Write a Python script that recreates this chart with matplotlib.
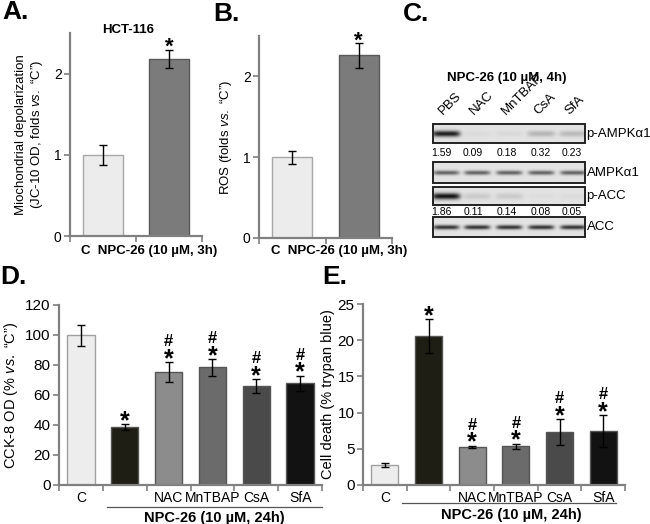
import numpy as np
import matplotlib
matplotlib.use("Agg")
import matplotlib.pyplot as plt
from matplotlib import transforms

plt.rcParams['font.family'] = ['Liberation Sans', 'DejaVu Sans']
plt.rcParams['mathtext.fontset'] = 'custom'
plt.rcParams['mathtext.it'] = 'Liberation Sans:italic'
plt.rcParams['mathtext.rm'] = 'Liberation Sans'

# ---------------- data ----------------
ab_categories = ["C", "NPC-26"]
a_values = [1.00, 2.18]
a_errors = [0.12, 0.11]
b_values = [1.00, 2.26]
b_errors = [0.08, 0.15]

de_categories = ["C", "", "NAC", "MnTBAP", "CsA", "SfA"]
d_values = [100.0, 38.5, 75.5, 78.5, 66.0, 68.0]
d_errors = [7.0, 2.0, 6.5, 5.5, 4.5, 5.0]
d_marks = ["", "*", "#*", "#*", "#*", "#*"]
e_values = [2.8, 20.6, 5.3, 5.35, 7.3, 7.4]
e_errors = [0.25, 2.3, 0.15, 0.35, 1.8, 2.2]
e_marks = ["", "*", "#*", "#*", "#*", "#*"]

lanes = ["PBS", "NAC", "MnTBAP", "CsA", "SfA"]
blot_names = ["p-AMPKα1", "AMPKα1", "p-ACC", "ACC"]
band_p_ampk = [0.95, 0.04, 0.05, 0.22, 0.20]
band_ampk = [0.62, 0.62, 0.62, 0.62, 0.62]
band_p_acc = [1.00, 0.12, 0.12, 0.03, 0.04]
band_acc = [0.85, 0.85, 0.85, 0.85, 0.85]
quant_p_ampk = ["1.59", "0.09", "0.18", "0.32", "0.23"]
quant_p_acc = ["1.86", "0.11", "0.14", "0.08", "0.05"]

# ---------------- styles ----------------
W, H = 650, 524
fig = plt.figure(figsize=(W / 100, H / 100), dpi=100)
spine_col = "#808080"
ab_colors = ["#ececec", "#7b7b7b"]
ab_edges = ["#a8a8a8", "#5a5a5a"]
de_colors = ["#ededed", "#1e1e14", "#8c8c8c", "#6b6b6b", "#4a4a4a", "#121212"]
de_edges = ["#a0a0a0", "#555555", "#555555", "#555555", "#555555", "#555555"]


def px_axes(l, r, b, t):
    return fig.add_axes([l / W, 1 - b / H, (r - l) / W, (b - t) / H])


def style_axes(ax, ncat, ylim, yticks, tickfs):
    ax.set_xlim(0, ncat)
    ax.set_ylim(*ylim)
    ax.set_yticks(yticks)
    ax.set_xticks(np.arange(ncat + 1))
    ax.set_xticklabels([])
    for s in ["top", "right"]:
        ax.spines[s].set_visible(False)
    for s in ["left", "bottom"]:
        ax.spines[s].set_color(spine_col)
        ax.spines[s].set_linewidth(1.6)
    ax.tick_params(axis="both", which="major", direction="out", length=4,
                   width=1.2, color=spine_col, labelsize=tickfs, pad=2)
    ax.patch.set_alpha(0)


def draw_bars(ax, vals, errs, colors, edges, width):
    x = np.arange(len(vals)) + 0.5
    ax.bar(x, vals, width=width, color=colors, edgecolor=edges, linewidth=1.0,
           yerr=errs, error_kw=dict(ecolor="black", elinewidth=1.0, capsize=3, capthick=1.0),
           zorder=2)
    return x


def draw_marks(ax, x, vals, errs, marks, fs, star_off):
    for xi, v, e, m in zip(x, vals, errs, marks):
        if "*" in m:
            ax.annotate("*", xy=(xi, v + e), xytext=(0, star_off), textcoords="offset pixels",
                        ha="center", va="baseline", fontsize=fs, fontweight="bold")
        if "#" in m:
            ax.annotate("#", xy=(xi, v + e), xytext=(0, 16), textcoords="offset pixels",
                        ha="center", va="baseline", fontsize=12, fontweight="bold")


# ---------------- Panel A ----------------
axA = px_axes(70, 202, 236, 33)
style_axes(axA, 2, (0, 2.5), [0, 1, 2], 10)
xa = draw_bars(axA, a_values, a_errors, ab_colors, ab_edges, 0.6)
draw_marks(axA, xa, a_values, a_errors, ["", "*"], 16, -3)
axA.set_ylabel('Miochondrial depolarization\n(JC-10 OD, folds $\\it{vs.}$ “C”)', fontsize=9.5,
               labelpad=6, linespacing=1.2)
axA.text(0.44, 1.015, "HCT-116", transform=axA.transAxes, ha="center", va="center",
         fontsize=9.5, fontweight="bold")
axA.text(0.6, -0.075, "C  NPC-26 (10 µM, 3h)", transform=axA.transAxes, ha="center",
         va="center", fontsize=9.5, fontweight="bold")

# ---------------- Panel B ----------------
axB = px_axes(259, 392, 238, 36)
style_axes(axB, 2, (0, 2.5), [0, 1, 2], 10)
xb = draw_bars(axB, b_values, b_errors, ab_colors, ab_edges, 0.6)
draw_marks(axB, xb, b_values, b_errors, ["", "*"], 16, -3)
axB.set_ylabel('ROS (folds $\\it{vs.}$ “C”)', fontsize=9.5, labelpad=6)
axB.text(0.6, -0.065, "C  NPC-26 (10 µM, 3h)", transform=axB.transAxes, ha="center",
         va="center", fontsize=9.5, fontweight="bold")

# ---------------- Panel D ----------------
axD = px_axes(59, 322, 485, 305)
style_axes(axD, 6, (0, 120), np.arange(0, 121, 20), 11)
xd = draw_bars(axD, d_values, d_errors, de_colors, de_edges, 0.62)
draw_marks(axD, xd, d_values, d_errors, d_marks, 18, -4)
axD.set_ylabel('CCK-8 OD (% $\\it{vs.}$ “C”)', fontsize=10.5, labelpad=4)
axD.set_xticks(xd, minor=True)
axD.set_xticklabels(de_categories, minor=True, fontsize=10)
axD.tick_params(axis="x", which="minor", length=0, pad=4)
tD = transforms.blended_transform_factory(axD.transData, axD.transAxes)
axD.plot([1.1, 6.0], [-0.122, -0.122], transform=tD, color="#555555", lw=0.9, clip_on=False)
axD.text(3.55, -0.185, "NPC-26 (10 µM, 24h)", transform=tD, ha="center", va="center",
         fontsize=10.5, fontweight="bold")

# ---------------- Panel E ----------------
axE = px_axes(363, 625, 485, 304)
style_axes(axE, 6, (0, 25), np.arange(0, 26, 5), 11)
xe = draw_bars(axE, e_values, e_errors, de_colors, de_edges, 0.62)
draw_marks(axE, xe, e_values, e_errors, e_marks, 18, -4)
axE.set_ylabel('Cell death (% trypan blue)', fontsize=10.5, labelpad=2)
axE.set_xticks(xe, minor=True)
axE.set_xticklabels(de_categories, minor=True, fontsize=10)
axE.tick_params(axis="x", which="minor", length=0, pad=4)
tE = transforms.blended_transform_factory(axE.transData, axE.transAxes)
axE.plot([0.9, 5.8], [-0.1, -0.1], transform=tE, color="#555555", lw=0.9, clip_on=False)
axE.text(3.4, -0.165, "NPC-26 (10 µM, 24h)", transform=tE, ha="center", va="center",
         fontsize=10.5, fontweight="bold")

# ---------------- overlay (panel letters + blot C) ----------------
ov = fig.add_axes([0, 0, 1, 1])
ov.axis("off")
for lab, (x, y) in zip(["A.", "B.", "C.", "D.", "E."],
                       [(2, 12), (213, 14), (403, 14), (0, 277), (322, 277)]):
    ov.text(x, y, lab, fontsize=19, fontweight="bold", ha="left", va="center")

ov.text(507, 78, "NPC-26 (10 µM, 4h)", fontsize=9.5, fontweight="bold", ha="center", va="center")

lane_x = [446, 477, 509, 541, 573]
box_x0, box_x1 = 433, 585
boxes = [(124, 143), (162, 183), (187, 205), (217, 237)]
bands = [band_p_ampk, band_ampk, band_p_acc, band_acc]
band_h = [3.0, 2.2, 3.2, 2.2]
band_w = [14, 13, 14, 13]

for lx, name in zip(lane_x, lanes):
    ov.text(lx - 1, 117, name, rotation=45, ha="left", va="bottom", fontsize=9.5,
            rotation_mode="anchor")

for (y0, y1), amps, bh, bw, name in zip(boxes, bands, band_h, band_w, blot_names):
    xs = np.arange(box_x0, box_x1, 0.5)
    ys = np.arange(y0, y1, 0.5)
    X, Y = np.meshgrid(xs, ys)
    cy = (y0 + y1) / 2
    inten = np.zeros_like(X)
    for lx, a in zip(lane_x, amps):
        inten += a * np.exp(-((X - lx) / bw) ** 6) * np.exp(-((Y - cy) / bh) ** 2)
    img = 0.89 - 0.82 * np.clip(inten, 0, 1)
    ov.imshow(img, extent=(box_x0, box_x1, y1, y0), cmap="gray", vmin=0, vmax=1,
              aspect="auto", interpolation="bilinear", zorder=1)
    ov.add_patch(plt.Rectangle((box_x0, y0), box_x1 - box_x0, y1 - y0, fill=False,
                               edgecolor="#222222", lw=1.4, zorder=2))
    ov.text(box_x1 + 1.5, (y0 + y1) / 2, name, ha="left", va="center", fontsize=9.5)

num_x = [441, 473, 507, 541, 572]
for nx, q in zip(num_x, quant_p_ampk):
    ov.text(nx, 153, q, ha="center", va="center", fontsize=7.5)
for nx, q in zip(num_x, quant_p_acc):
    ov.text(nx, 212, q, ha="center", va="center", fontsize=7.5)

ov.set_xlim(0, W)
ov.set_ylim(H, 0)

fig.savefig("out.png", dpi=100)
